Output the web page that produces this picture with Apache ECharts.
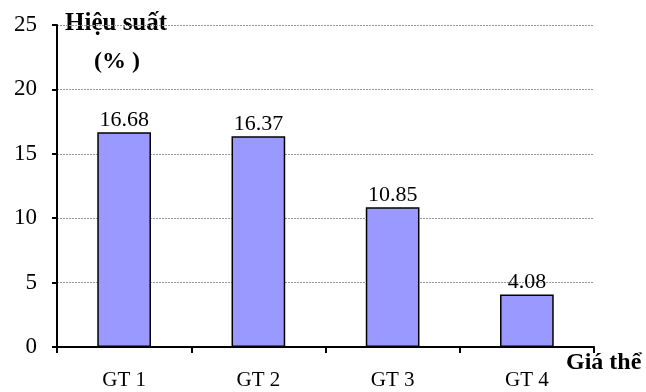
<!DOCTYPE html>
<html>
<head>
<meta charset="utf-8">
<script src="https://cdn.jsdelivr.net/npm/echarts@6/dist/echarts.min.js"></script>
<style>
  html, body { margin: 0; padding: 0; background: #fff; }
  #chart { width: 646px; height: 392px; }
</style>
</head>
<body>
<div id="chart"></div>
<script>
// Hiệu suất theo giá thể
const categories = ['GT 1', 'GT 2', 'GT 3', 'GT 4'];
const efficiency = [16.68, 16.37, 10.85, 4.08];
const yTicks = [0, 5, 10, 15, 20, 25];

const serif = '"Liberation Serif", "Times New Roman", serif';
const chart = echarts.init(document.getElementById('chart'));

chart.setOption({
  animation: false,
  backgroundColor: '#fff',
  grid: { left: 57, right: 52, top: 25, bottom: 45, containLabel: false },
  xAxis: {
    type: 'category',
    data: categories,
    boundaryGap: true,
    axisLine: { lineStyle: { color: '#000', width: 2 } },
    axisTick: { show: true, alignWithLabel: false, length: 6, lineStyle: { color: '#000', width: 2 } },
    axisLabel: { color: '#000', fontFamily: serif, fontSize: 21, margin: 23 },
    splitLine: { show: false }
  },
  yAxis: {
    type: 'value',
    min: yTicks[0],
    max: yTicks[yTicks.length - 1],
    interval: 5,
    axisLine: { show: true, lineStyle: { color: '#000', width: 2 } },
    axisTick: { show: true, length: 5, lineStyle: { color: '#000', width: 2 } },
    axisLabel: { color: '#000', fontFamily: serif, fontSize: 23, margin: 20 },
    splitLine: { show: true, lineStyle: { color: '#999', type: [2, 1], width: 1 } }
  },
  graphic: [
    {
      type: 'text', x: 65, y: 24,
      style: { text: 'Hiệu suất', font: 'bold 25px ' + serif, fill: '#000', textVerticalAlign: 'middle', verticalAlign: 'middle' }
    },
    {
      type: 'text', x: 94, y: 62,
      style: { text: '(% )', font: 'bold 24px ' + serif, fill: '#000', textVerticalAlign: 'middle', verticalAlign: 'middle' }
    },
    {
      type: 'text', x: 566, y: 363,
      style: { text: 'Giá thể', font: 'bold 24px ' + serif, fill: '#000', textVerticalAlign: 'middle', verticalAlign: 'middle' }
    }
  ],
  series: [{
    type: 'bar',
    data: efficiency,
    barWidth: '40%',
    itemStyle: { color: '#9999FF', borderColor: '#000', borderWidth: 1.5 },
    label: {
      show: true, position: 'top', distance: 1,
      color: '#000', fontFamily: serif, fontSize: 22,
      formatter: p => p.value.toFixed(2)
    }
  }]
});
</script>
</body>
</html>
